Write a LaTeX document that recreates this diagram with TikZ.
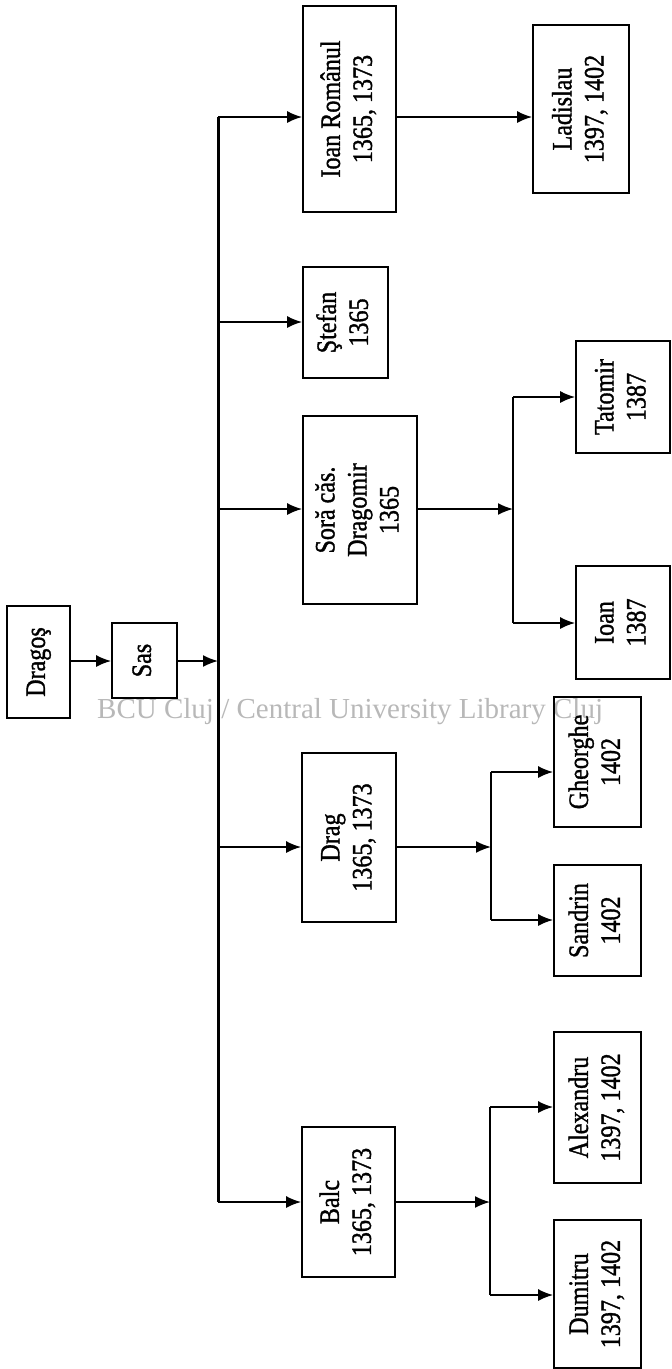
\documentclass[tikz,border=0pt]{standalone}
\usepackage{fontspec}
\setmainfont{Liberation Serif}
\newfontfamily\boxfont{Liberation Serif}[FakeBold=1.3]
\usetikzlibrary{arrows.meta}
\newcommand{\bxt}[1]{\rotatebox{90}{\scalebox{0.86}[1]{\begin{tabular}{@{}c@{}}#1\end{tabular}}}}
\begin{document}
\begin{tikzpicture}[x=1pt,y=-1pt,
  box/.style={draw, line width=1.8pt, inner sep=0pt, font=\boxfont\fontsize{28}{32}\selectfont},
  conn/.style={line width=1.7pt},
  arr/.style={conn, -{Latex[length=15pt,width=12pt]}},
  trunkline/.style={line width=3pt},
  wmark/.style={text=black!28, inner sep=0pt, font=\fontsize{29}{29}\selectfont}
]
\useasboundingbox (0,0) rectangle (672,1369);
% watermark
\node[wmark, anchor=base west] (wm) at (97,718) {BCU Cluj / Central University Library Cluj};
% boxes
\node[box, minimum width=63pt, minimum height=112pt] (dragos) at (38.5,662) {\bxt{Dragoş}};
\node[box, minimum width=65pt, minimum height=75pt] (sas) at (144.5,660.5) {\bxt{Sas}};
\node[box, minimum width=93pt, minimum height=206pt] (ir) at (349.5,109) {\bxt{Ioan Românul\\1365, 1373}};
\node[box, minimum width=96pt, minimum height=168pt] (lad) at (581,109) {\bxt{Ladislau\\1397, 1402}};
\node[box, minimum width=85pt, minimum height=111pt] (stef) at (345.5,322.5) {\bxt{Ştefan\\1365}};
\node[box, minimum width=114pt, minimum height=188pt] (sora) at (360,510) {\bxt{Soră căs.\\Dragomir\\1365}};
\node[box, minimum width=94pt, minimum height=112pt] (tat) at (623,397) {\bxt{Tatomir\\1387}};
\node[box, minimum width=94pt, minimum height=113pt] (ioan) at (623,622.5) {\bxt{Ioan\\1387}};
\node[box, minimum width=94pt, minimum height=169pt] (drag) at (349,837.5) {\bxt{Drag\\1365, 1373}};
\node[box, minimum width=87pt, minimum height=130pt] (gh) at (597.5,762) {\bxt{Gheorghe\\1402}};
\node[box, minimum width=87pt, minimum height=111pt] (sand) at (597.5,920.5) {\bxt{Sandrin\\1402}};
\node[box, minimum width=93pt, minimum height=150pt] (balc) at (348.5,1202) {\bxt{Balc\\1365, 1373}};
\node[box, minimum width=87pt, minimum height=151pt] (alex) at (597.5,1107.5) {\bxt{Alexandru\\1397, 1402}};
\node[box, minimum width=87pt, minimum height=148pt] (dum) at (597.5,1294) {\bxt{Dumitru\\1397, 1402}};
% junction coordinates
\coordinate (jDS) at (90,661);
\coordinate (jSas) at (218,661);
\coordinate (jIR) at (218,117);
\coordinate (jSt) at (218,322);
\coordinate (jSo) at (218,509);
\coordinate (jDr) at (218,847);
\coordinate (jBa) at (218,1202);
\coordinate (kS) at (513,509);
\coordinate (kSa) at (513,397);
\coordinate (kSb) at (513,623);
\coordinate (kD) at (491,847);
\coordinate (kDa) at (491,772);
\coordinate (kDb) at (491,920);
\coordinate (kB) at (490,1202);
\coordinate (kBa) at (490,1107);
\coordinate (kBb) at (490,1295);
% trunk
\draw[trunkline] (jIR) -- (jBa);
% connectors
\draw[arr] (dragos.east |- jDS) -- (sas.west |- jDS);
\draw[arr] (sas.east |- jSas) -- (jSas);
\draw[arr] (jIR) -- (ir.west |- jIR);
\draw[arr] (jSt) -- (stef.west |- jSt);
\draw[arr] (jSo) -- (sora.west |- jSo);
\draw[arr] (jDr) -- (drag.west |- jDr);
\draw[arr] (jBa) -- (balc.west |- jBa);
\draw[arr] (ir.east |- jIR) -- (lad.west |- jIR);
% Sora branch
\draw[arr] (sora.east |- kS) -- (kS);
\draw[conn] (kSa) -- (kSb);
\draw[arr] (kSa) -- (tat.west |- kSa);
\draw[arr] (kSb) -- (ioan.west |- kSb);
% Drag branch
\draw[arr] (drag.east |- kD) -- (kD);
\draw[conn] (kDa) -- (kDb);
\draw[arr] (kDa) -- (gh.west |- kDa);
\draw[arr] (kDb) -- (sand.west |- kDb);
% Balc branch
\draw[arr] (balc.east |- kB) -- (kB);
\draw[conn] (kBa) -- (kBb);
\draw[arr] (kBa) -- (alex.west |- kBa);
\draw[arr] (kBb) -- (dum.west |- kBb);
\end{tikzpicture}
\end{document}
